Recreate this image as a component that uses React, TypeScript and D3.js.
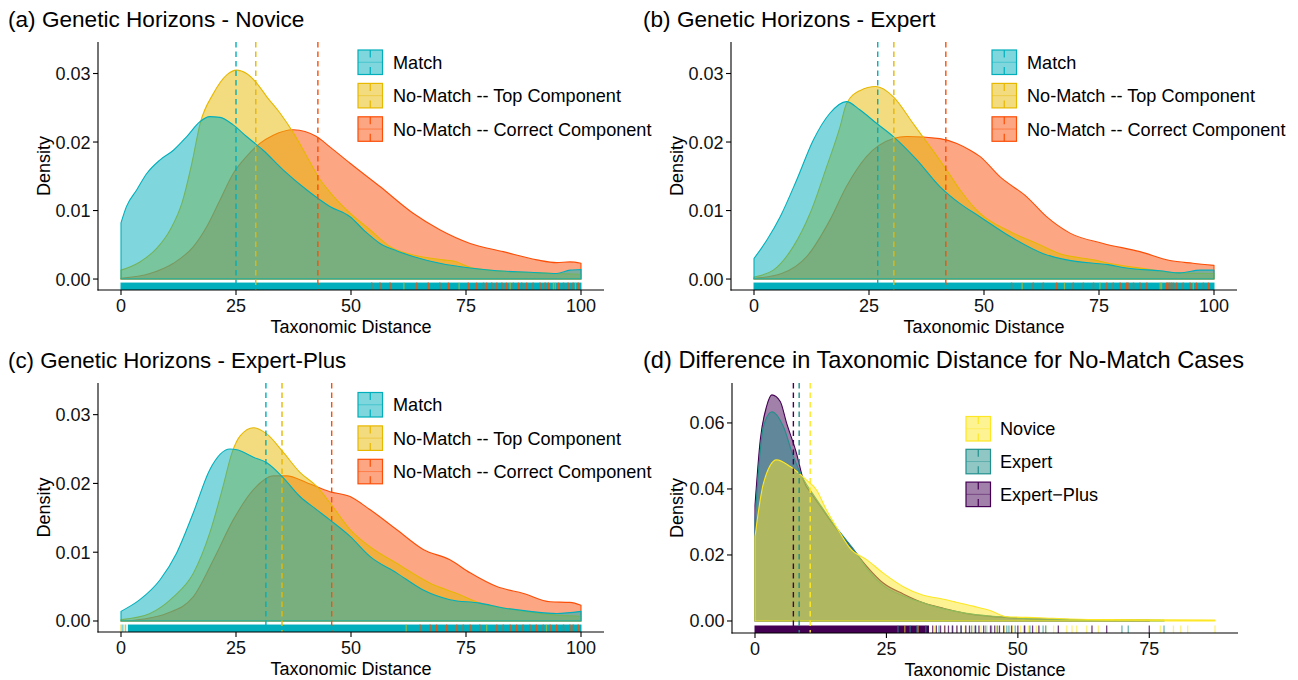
import React from 'react';
import * as d3 from 'd3';

const FONT = "'Liberation Sans', Arial, Helvetica, sans-serif";

// ---------- colours ----------
const C_MATCH = '#00AFBB';
const C_TOP = '#E7B800';
const C_CORR = '#FC4E07';
const C_NOV = '#FDE725';
const C_EXP = '#21908C';
const C_EXPP = '#440154';

// ---------- text ----------
const titleA = '(a) Genetic Horizons - Novice';
const titleB = '(b) Genetic Horizons - Expert';
const titleC = '(c) Genetic Horizons - Expert-Plus';
const titleD = '(d) Difference in Taxonomic Distance for No-Match Cases';
const xTitle = 'Taxonomic Distance';
const yTitle = 'Density';
const legendABC = ['Match', 'No-Match -- Top Component', 'No-Match -- Correct Component'];
const legendD = ['Novice', 'Expert', 'Expert\u2212Plus'];

// ---------- ticks ----------
const xTicksABC = [0, 25, 50, 75, 100];
const yTicksABC = [0, 0.01, 0.02, 0.03];
const xTicksD = [0, 25, 50, 75];
const yTicksD = [0, 0.02, 0.04, 0.06];

// ---------- density curves [distance, density] ----------
const novMatch: [number, number][] = [[0,0.0082],[1.2,0.0106],[3.4,0.013],[5.6,0.0154],[8.5,0.0174],[11.4,0.0188],[14.3,0.0208],[17.2,0.023],[19.3,0.0237],[21.5,0.0236],[24.4,0.0225],[27.3,0.0208],[30.9,0.0188],[35.3,0.0159],[40.4,0.013],[45.4,0.0106],[49.8,0.0091],[53,0.007],[56.3,0.0052],[60,0.0041],[63.5,0.0033],[69.3,0.0023],[75.9,0.0016],[81.7,0.0012],[88.9,0.001],[94.7,0.0008],[97.6,0.0013],[100,0.0014]];
const novTop: [number, number][] = [[0,0.0013],[4.1,0.0025],[7.8,0.0045],[10.7,0.0072],[13.2,0.011],[15.4,0.0169],[17.2,0.0227],[20.1,0.0271],[23,0.0298],[25.1,0.0305],[27.3,0.03],[29.5,0.0286],[31.7,0.0266],[34.6,0.0242],[37.5,0.0213],[40.4,0.0179],[43.3,0.0145],[45.4,0.0127],[49.8,0.0096],[54.1,0.0072],[58.5,0.0047],[63.5,0.0035],[70,0.0028],[72.5,0.0026],[75.9,0.0017],[80,0.0013],[90,0.0009],[100,0.0007]];
const novCorr: [number, number][] = [[0,0.0001],[6.3,0.0008],[11.4,0.0023],[15.7,0.0047],[18.6,0.0076],[21.5,0.0115],[24.4,0.0154],[27.3,0.0179],[30.2,0.0198],[33.1,0.021],[37.5,0.0218],[42.5,0.0208],[45.4,0.0193],[49.8,0.0169],[56.3,0.0135],[63.5,0.0096],[69.3,0.0072],[75.9,0.0052],[83.1,0.004],[90.4,0.0028],[94.7,0.0024],[97.6,0.0025],[100,0.0023]];

const expMatch: [number, number][] = [[0,0.003],[2.8,0.0057],[5.7,0.0091],[9.3,0.0145],[12.9,0.0203],[16.5,0.0242],[20.1,0.0259],[23,0.0247],[26.7,0.0227],[30.3,0.0208],[35.4,0.0174],[40.4,0.0135],[44.8,0.011],[49.1,0.0091],[55.7,0.0062],[62.9,0.0037],[68,0.0028],[73.8,0.0023],[77,0.0021],[81,0.0016],[88.3,0.0012],[92.6,0.0009],[97,0.0013],[100,0.0013]];
const expTop: [number, number][] = [[0,0.0003],[4.2,0.0013],[8.5,0.0047],[12.2,0.0096],[15.8,0.0164],[18.7,0.0222],[20.1,0.0256],[23,0.0275],[26.5,0.0281],[30.3,0.0266],[34.6,0.0227],[38.3,0.0193],[41.9,0.0159],[44.8,0.013],[49.1,0.0096],[55.7,0.0069],[61.5,0.0052],[66.5,0.0037],[73.8,0.0028],[78,0.0022],[85,0.0015],[92,0.0009],[100,0.0008]];
const expCorr: [number, number][] = [[0,0.0001],[6,0.0008],[11.5,0.0033],[16.5,0.0086],[20.1,0.0135],[24.5,0.0179],[30.3,0.0205],[33.2,0.0208],[40.4,0.0205],[44.1,0.0198],[47,0.0188],[49.1,0.0179],[53.5,0.0149],[59.3,0.012],[63.6,0.0091],[68.7,0.0067],[75.9,0.0052],[83.9,0.004],[90.4,0.0027],[95.4,0.0023],[100,0.002]];

const plusMatch: [number, number][] = [[0,0.0014],[4.1,0.0031],[8.5,0.006],[12.1,0.0099],[15.7,0.0157],[19.3,0.022],[23.7,0.025],[25.2,0.0249],[28.8,0.0238],[31.7,0.023],[35.3,0.0208],[38.9,0.0181],[42.5,0.0162],[45.4,0.0147],[49.8,0.0123],[54.1,0.0094],[59.9,0.007],[65.7,0.0045],[71.5,0.0031],[78,0.0026],[83.1,0.0019],[88.9,0.0014],[94.7,0.0011],[100,0.0014]];
const plusTop: [number, number][] = [[0,0.0002],[6.3,0.0011],[11.4,0.0035],[15.7,0.0069],[19.3,0.0128],[22.2,0.0196],[24.1,0.0244],[25.9,0.0269],[28.8,0.0281],[31.7,0.0272],[35.3,0.0245],[38.9,0.0216],[42.5,0.0196],[45.4,0.0172],[49.8,0.0133],[54.1,0.0108],[59.9,0.0084],[67.2,0.0055],[73,0.004],[78,0.0026],[85,0.0017],[92,0.001],[100,0.0007]];
const plusCorr: [number, number][] = [[0,0],[5,0.0003],[9.9,0.0011],[15.7,0.0035],[20.1,0.0089],[24.4,0.0147],[28.8,0.0191],[33.1,0.0211],[36,0.0211],[40.4,0.0201],[45.4,0.0188],[49.8,0.0181],[54.1,0.0162],[59.9,0.0133],[65.7,0.0104],[71.5,0.0089],[75.9,0.007],[81.7,0.005],[87.5,0.004],[93.3,0.0028],[97.6,0.0027],[100,0.0023]];

const diffNovice: [number, number][] = [[0,0.0255],[1.6,0.0417],[4.1,0.0488],[6.7,0.0468],[9.8,0.0427],[11.7,0.0397],[13.6,0.0336],[16.2,0.0266],[18.1,0.022],[21.3,0.0185],[24.4,0.0145],[28.2,0.0104],[32,0.0078],[35.2,0.0068],[38,0.0058],[41.5,0.0045],[44.7,0.0032],[47.9,0.0013],[54,0.001],[60,0.0006],[66.9,0.0004],[87.5,0.0003]];
const diffExpert: [number, number][] = [[0,0.0306],[1.6,0.0589],[3.2,0.0634],[5.4,0.0589],[7.3,0.0498],[9.2,0.043],[11,0.0385],[13,0.0338],[15,0.0292],[17,0.0252],[19,0.0212],[21.3,0.0158],[24.4,0.0107],[28.2,0.0076],[32,0.0055],[33.9,0.0045],[37,0.0033],[40.3,0.0023],[44.7,0.0015],[51,0.0008],[60,0.0004],[70,0.0003],[77.8,0.0002]];
const diffPlus: [number, number][] = [[0,0.035],[1,0.0548],[2.2,0.065],[3.2,0.0685],[4.8,0.0665],[6,0.06],[7.9,0.0508],[9.2,0.0427],[11,0.038],[13,0.0335],[15,0.029],[17,0.025],[19,0.021],[21.3,0.0165],[24.4,0.0115],[28.2,0.0082],[32,0.0055],[36,0.0038],[40.3,0.0022],[44.7,0.0014],[51,0.0008],[60,0.0004],[75,0.0002]];

// ---------- means (dashed lines) ----------
const meansNovice = [25.0, 29.3, 42.8]; // match, top, correct
const meansExpert = [26.9, 30.4, 41.7];
const meansPlus = [31.5, 35.0, 45.8];
const meansDiff = [10.5, 8.4, 7.3]; // novice, expert, expert-plus

// ---------- rugs ----------
// dense stretches that read as a solid band [from, to]
const rugBandMatchA: [number, number] = [0, 100];
const rugBandMatchB: [number, number] = [0, 100];
const rugBandMatchC: [number, number] = [1.6, 100];
const rugBandPlusD: [number, number] = [0, 33];
// individual visible marks
const rugCorrA = [54.5,56.3,58.5,64.3,66.8,69.3,71.2,75.5,77.3,78.8,79.5,80.6,81.7,82.8,83.8,85.3,86.4,87.1,88.2,89.6,91.1,92.2,92.9,95.1,96.2,97.2,98.3,99.4];
const rugTopA = [61.5,73.5,84.6,94.0,94.4,98.8];
const rugCorrB = [56.0,60.7,62.9,65.8,69.4,71.6,73.8,76.7,78.1,79.6,81.0,81.3,82.5,83.9,85.4,89.7,90.0,90.4,90.8,91.2,91.9,93.3,94.8,96.2,97.7,98.8];
const rugTopB = [58.3,67.5,75.2,88.3,88.6,95.5];
const rugCorrC = [65.0,67.2,68.6,70.8,73.0,74.4,75.9,78.0,81.7,83.1,84.6,86.0,87.4,88.9,90.3,91.8,93.3,94.7,96.2,97.6,98.3,99.4];
const rugTopC = [0, 0.6, 62.0, 79.5, 92.5];
const rugMatchC = [0.3, 1.0];
const rugNovD = [28.5,31,34.2,36,38.5,40,41.5,43,44.2,46,47.5,49,50.5,52,53.5,55.3,56.8,59.3,60.3,61.2,63.1,65.3,77.1,79.6,81.0,82.3,87.5];
const rugExpD = [27.2,29.5,30.8,32.5,35,37.5,39.2,41.2,42,43.9,45,46.1,47.9,48.3,49.5,51.2,52.3,54.8,55.3,69.8,71.0,77.8];
const rugPlusD = [33.8,34.5,35.3,36.1,36.8,37.6,38.4,39.2,40.1,40.8,41.9,42.6,43.5,44.8,45.6,46.5,47.3,48.8,50,51.3,52.8,54.0,57.7,64.1,66.9,75.0];

type Series = { name: string; color: string; curve: [number, number][]; mean: number };
type Rug = { color: string; values: number[]; opacity: number };
type Band = { color: string; range: [number, number] };

type PanelSpec = {
  title: string; titleX: number; titleY: number; titleSize: number;
  left: number; right: number; top: number; bottom: number;
  xDomain: [number, number]; yDomain: [number, number];
  xTicks: number[]; yTicks: number[]; yFmt: (v: number) => string;
  series: Series[];
  drawOrder: number[];
  bands: Band[]; rugs: Rug[];
  legendX: number; legendY: number; legendStep: number; legendTextX: number;
  yTitleX: number;
};

const fmt2 = (v: number) => v.toFixed(2);

const panels: PanelSpec[] = [
  {
    title: titleA, titleX: 8, titleY: 27, titleSize: 22.6, left: 98, right: 604, top: 42, bottom: 290,
    xDomain: [-5, 105], yDomain: [-0.0016, 0.0346], xTicks: xTicksABC, yTicks: yTicksABC, yFmt: fmt2,
    series: [
      { name: legendABC[0], color: C_MATCH, curve: novMatch, mean: meansNovice[0] },
      { name: legendABC[1], color: C_TOP, curve: novTop, mean: meansNovice[1] },
      { name: legendABC[2], color: C_CORR, curve: novCorr, mean: meansNovice[2] },
    ],
    drawOrder: [2, 1, 0],
    bands: [{ color: C_MATCH, range: rugBandMatchA }],
    rugs: [{ color: C_TOP, values: rugTopA, opacity: 0.6 }, { color: C_CORR, values: rugCorrA, opacity: 0.85 }],
    legendX: 358, legendY: 50, legendStep: 33.4, legendTextX: 393, yTitleX: 50,
  },
  {
    title: titleB, titleX: 643, titleY: 27, titleSize: 22.6, left: 731, right: 1237, top: 42, bottom: 290,
    xDomain: [-5, 105], yDomain: [-0.0016, 0.0346], xTicks: xTicksABC, yTicks: yTicksABC, yFmt: fmt2,
    series: [
      { name: legendABC[0], color: C_MATCH, curve: expMatch, mean: meansExpert[0] },
      { name: legendABC[1], color: C_TOP, curve: expTop, mean: meansExpert[1] },
      { name: legendABC[2], color: C_CORR, curve: expCorr, mean: meansExpert[2] },
    ],
    drawOrder: [2, 1, 0],
    bands: [{ color: C_MATCH, range: rugBandMatchB }],
    rugs: [{ color: C_TOP, values: rugTopB, opacity: 0.6 }, { color: C_CORR, values: rugCorrB, opacity: 0.85 }],
    legendX: 992, legendY: 50, legendStep: 33.4, legendTextX: 1027, yTitleX: 682.5,
  },
  {
    title: titleC, titleX: 8, titleY: 367.5, titleSize: 22.3, left: 98, right: 604, top: 383, bottom: 632,
    xDomain: [-5, 105], yDomain: [-0.0016, 0.0346], xTicks: xTicksABC, yTicks: yTicksABC, yFmt: fmt2,
    series: [
      { name: legendABC[0], color: C_MATCH, curve: plusMatch, mean: meansPlus[0] },
      { name: legendABC[1], color: C_TOP, curve: plusTop, mean: meansPlus[1] },
      { name: legendABC[2], color: C_CORR, curve: plusCorr, mean: meansPlus[2] },
    ],
    drawOrder: [2, 1, 0],
    bands: [{ color: C_MATCH, range: rugBandMatchC }],
    rugs: [{ color: C_TOP, values: rugTopC, opacity: 0.6 }, { color: C_MATCH, values: rugMatchC, opacity: 0.5 }, { color: C_CORR, values: rugCorrC, opacity: 0.85 }],
    legendX: 358, legendY: 392.5, legendStep: 33.4, legendTextX: 393, yTitleX: 50,
  },
  {
    title: titleD, titleX: 643, titleY: 367.5, titleSize: 23.6, left: 732, right: 1238, top: 383, bottom: 633,
    xDomain: [-4.375, 91.875], yDomain: [-0.00364, 0.0721], xTicks: xTicksD, yTicks: yTicksD, yFmt: fmt2,
    series: [
      { name: legendD[0], color: C_NOV, curve: diffNovice, mean: meansDiff[0] },
      { name: legendD[1], color: C_EXP, curve: diffExpert, mean: meansDiff[1] },
      { name: legendD[2], color: C_EXPP, curve: diffPlus, mean: meansDiff[2] },
    ],
    drawOrder: [2, 1, 0],
    bands: [{ color: C_EXPP, range: rugBandPlusD }],
    rugs: [{ color: C_NOV, values: rugNovD, opacity: 0.6 }, { color: C_EXP, values: rugExpD, opacity: 0.65 }, { color: C_EXPP, values: rugPlusD, opacity: 0.75 }],
    legendX: 966, legendY: 416.5, legendStep: 32.8, legendTextX: 1000, yTitleX: 682.5,
  },
];

const TICK_FS = 18;
const AXT_FS = 18;
const LEG_FS = 18.1;

function Panel({ p }: { p: PanelSpec }) {
  const x = d3.scaleLinear().domain(p.xDomain).range([p.left, p.right]);
  const y = d3.scaleLinear().domain(p.yDomain).range([p.bottom, p.top]);
  const area = d3.area<[number, number]>()
    .x(d => x(d[0]))
    .y0(y(0))
    .y1(d => y(d[1]))
    .curve(d3.curveMonotoneX);
  const rugLen = (p.bottom - p.top) * 0.03;
  const keyS = 24.5;
  return (
    <g>
      <text x={p.titleX} y={p.titleY} fontSize={p.titleSize} fill="#000">{p.title}</text>
      {p.drawOrder.map(i => {
        const s = p.series[i];
        return (
          <path key={'d' + i} d={area(s.curve) || ''} fill={s.color} fillOpacity={0.5}
            stroke={s.color} strokeWidth={1.1} strokeLinejoin="round" />
        );
      })}
      {p.bands.map((b, i) => (
        <rect key={'b' + i} x={x(b.range[0]) - 0.5} y={p.bottom - rugLen}
          width={x(b.range[1]) - x(b.range[0]) + 1} height={rugLen} fill={b.color} />
      ))}
      {p.rugs.map((r, i) => (
        <g key={'r' + i}>
          {r.values.map((v, j) => (
            <line key={j} x1={x(v)} x2={x(v)} y1={p.bottom} y2={p.bottom - rugLen}
              stroke={r.color} strokeOpacity={r.opacity} strokeWidth={1.3} />
          ))}
        </g>
      ))}
      {p.drawOrder.map(i => {
        const s = p.series[i];
        return (
          <line key={'m' + i} x1={x(s.mean)} x2={x(s.mean)} y1={p.top} y2={p.bottom}
            stroke={s.color} strokeWidth={1.4} strokeDasharray="5.5 4" />
        );
      })}
      <line x1={p.left} x2={p.left} y1={p.top} y2={p.bottom + 0.5} stroke="#000" strokeWidth={1.1} />
      <line x1={p.left - 0.5} x2={p.right} y1={p.bottom} y2={p.bottom} stroke="#000" strokeWidth={1.1} />
      {p.yTicks.map(t => (
        <g key={'yt' + t}>
          <line x1={p.left - 5} x2={p.left} y1={y(t)} y2={y(t)} stroke="#000" strokeWidth={1.1} />
          <text x={p.left - 7.5} y={y(t)} dy="0.36em" textAnchor="end" fontSize={TICK_FS} fill="#111">{p.yFmt(t)}</text>
        </g>
      ))}
      {p.xTicks.map(t => (
        <g key={'xt' + t}>
          <line x1={x(t)} x2={x(t)} y1={p.bottom} y2={p.bottom + 5} stroke="#000" strokeWidth={1.1} />
          <text x={x(t)} y={p.bottom + 21.5} textAnchor="middle" fontSize={TICK_FS} fill="#111">{t}</text>
        </g>
      ))}
      <text x={(p.left + p.right) / 2} y={p.bottom + 43} textAnchor="middle" fontSize={AXT_FS} fill="#000">{xTitle}</text>
      <text transform={`translate(${p.yTitleX},${(p.top + p.bottom) / 2}) rotate(-90)`} textAnchor="middle" fontSize={AXT_FS} fill="#000">{yTitle}</text>
      {p.series.map((s, i) => {
        const ky = p.legendY + i * p.legendStep;
        const cx = p.legendX + keyS / 2;
        return (
          <g key={'l' + i}>
            <rect x={p.legendX} y={ky} width={keyS} height={keyS} fill={s.color} fillOpacity={0.5} stroke={s.color} strokeWidth={1.2} />
            <line x1={p.legendX} x2={p.legendX + keyS} y1={ky + keyS / 2} y2={ky + keyS / 2} stroke={s.color} strokeOpacity={0.45} strokeWidth={1} />
            <line x1={cx} x2={cx} y1={ky} y2={ky + keyS} stroke={s.color} strokeWidth={1.2} strokeDasharray="7.5 9.5" />
            <text x={p.legendTextX} y={ky + keyS / 2} dy="0.36em" fontSize={LEG_FS} fill="#000">{s.name}</text>
          </g>
        );
      })}
    </g>
  );
}

export default function App() {
  return (
    <svg width={1298} height={680} viewBox="0 0 1298 680"
      style={{ position: 'absolute', left: 0, top: 0, display: 'block', background: '#fff' }}
      fontFamily={FONT}>
      <rect x={0} y={0} width={1298} height={680} fill="#fff" />
      {panels.map((p, i) => <Panel key={i} p={p} />)}
    </svg>
  );
}
